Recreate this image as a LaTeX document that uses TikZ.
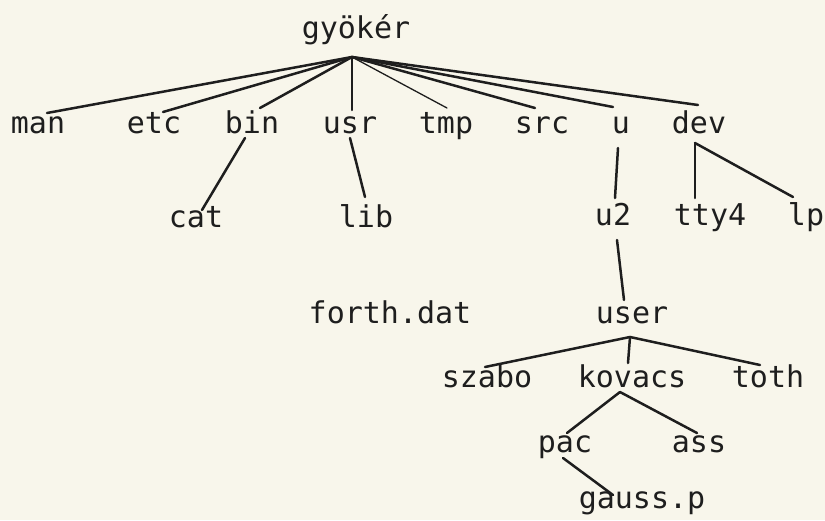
\documentclass[tikz,border=0pt]{standalone}
\usepackage{fontspec}
\setmonofont{DejaVu Sans Mono}
\definecolor{paper}{RGB}{248,246,235}
\definecolor{ink}{RGB}{30,30,30}
\tikzset{
  lbl/.style={anchor=base, inner sep=0pt, text=ink,
    font=\ttfamily\fontsize{30}{34}\selectfont},
  edge/.style={draw=ink, line width=2.5pt, line cap=round},
  thinedge/.style={draw=ink, line width=1.3pt, line cap=round}
}
\begin{document}
\begin{tikzpicture}[x=1pt,y=-1pt]
  % paper
  \fill[paper] (0,0) rectangle (825,520);
  \useasboundingbox (0,0) rectangle (825,520);

  % directory names
  \node[lbl] (root) at (356,38) {gyökér};
  \node[lbl] (man) at (38,133) {man};
  \node[lbl] (etc) at (154,133) {etc};
  \node[lbl] (bin) at (252,133) {bin};
  \node[lbl] (usr) at (350,133) {usr};
  \node[lbl] (tmp) at (446,133) {tmp};
  \node[lbl] (src) at (542,133) {src};
  \node[lbl] (u) at (621,133) {u};
  \node[lbl] (dev) at (699,133) {dev};
  \node[lbl] (cat) at (196,227) {cat};
  \node[lbl] (lib) at (366,227) {lib};
  \node[lbl] (u2) at (613,225) {u2};
  \node[lbl] (tty) at (710,225) {tty4};
  \node[lbl] (lp) at (806,225) {lp};
  \node[lbl] (forth) at (390,323) {forth.dat};
  \node[lbl] (user) at (632,323) {user};
  \node[lbl] (szabo) at (487,387) {szabo};
  \node[lbl] (kovacs) at (632,387) {kovacs};
  \node[lbl] (toth) at (768,387) {toth};
  \node[lbl] (pac) at (565,452) {pac};
  \node[lbl] (ass) at (699,452) {ass};
  \node[lbl] (gauss) at (642,508) {gauss.p};

  % links from the root
  \draw[edge] ([shift={(-4,19)}]root.base) -- ([shift={(9,-20)}]man.base);
  \draw[edge] ([shift={(-4,19)}]root.base) -- ([shift={(9,-21)}]etc.base);
  \draw[edge] ([shift={(-4,19)}]root.base) -- ([shift={(8,-25)}]bin.base);
  \draw[edge] ([shift={(-4,19)}]root.base) -- ([shift={(2,-23)}]usr.base);
  \draw[thinedge] ([shift={(-4,19)}]root.base) -- ([shift={(1,-25)}]tmp.base);
  \draw[edge] ([shift={(-4,19)}]root.base) -- ([shift={(-7,-25)}]src.base);
  \draw[edge] ([shift={(-4,19)}]root.base) -- ([shift={(-8,-26)}]u.base);
  \draw[edge] ([shift={(-4,19)}]root.base) -- ([shift={(-1,-28)}]dev.base);

  % second level
  \draw[edge] ([shift={(-7,5)}]bin.base) -- ([shift={(6,-17)}]cat.base);
  \draw[edge] ([shift={(0,5)}]usr.base) -- ([shift={(-1,-30)}]lib.base);
  \draw[edge] ([shift={(-3,15)}]u.base) -- ([shift={(2,-27)}]u2.base);
  \draw[edge] ([shift={(-4,10)}]dev.base) -- ([shift={(-15,-27)}]tty.base);
  \draw[edge] ([shift={(-4,10)}]dev.base) -- ([shift={(-13,-28)}]lp.base);

  % user directories
  \draw[edge] ([shift={(4,15)}]u2.base) -- ([shift={(-8,-23)}]user.base);
  \draw[edge] ([shift={(-2,14)}]user.base) -- ([shift={(-2,-20)}]szabo.base);
  \draw[edge] ([shift={(-2,14)}]user.base) -- ([shift={(-4,-24)}]kovacs.base);
  \draw[edge] ([shift={(-2,14)}]user.base) -- ([shift={(-8,-22)}]toth.base);
  \draw[edge] ([shift={(-12,5)}]kovacs.base) -- ([shift={(2,-19)}]pac.base);
  \draw[edge] ([shift={(-12,5)}]kovacs.base) -- ([shift={(-2,-19)}]ass.base);
  \draw[edge] ([shift={(-2,6)}]pac.base) -- ([shift={(-29,-13)}]gauss.base);
\end{tikzpicture}
\end{document}
